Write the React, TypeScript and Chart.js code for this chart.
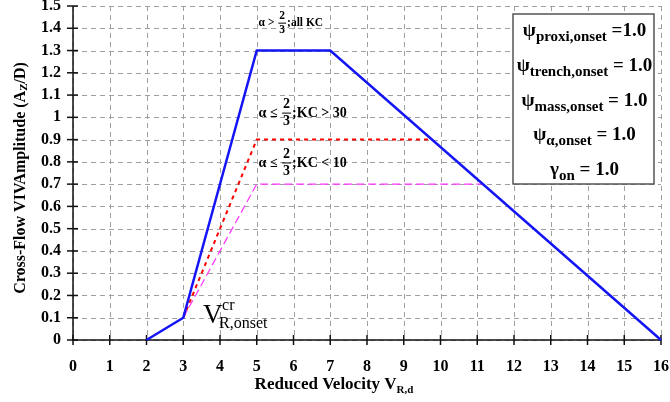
import React, { useEffect, useRef } from "react";
import { Chart, registerables } from "chart.js";

Chart.register(...registerables);

// ---- data ----
const allKcX = [2, 3, 5, 7, 16];
const allKcY = [0, 0.1, 1.3, 1.3, 0];
const kc30X = [3, 5, 9.77];
const kc30Y = [0.1, 0.9, 0.9];
const kc10X = [3, 5, 11.15];
const kc10Y = [0.1, 0.7, 0.7];
const xTickValues = [0, 1, 2, 3, 4, 5, 6, 7, 8, 9, 10, 11, 12, 13, 14, 15, 16];
const yTickValues = [0, 0.1, 0.2, 0.3, 0.4, 0.5, 0.6, 0.7, 0.8, 0.9, 1, 1.1, 1.2, 1.3, 1.4, 1.5];
const legendSymbols = ["ψ", "ψ", "ψ", "ψ", "γ"];
const legendSubs = ["proxi,onset", "trench,onset", "mass,onset", "α,onset", "on"];
const legendValues = ["=1.0", "= 1.0", "= 1.0", "= 1.0", "= 1.0"];
const yTitle = "Cross-Flow VIVAmplitude (A";
const xTitle = "Reduced Velocity V";

const SERIF = '"Liberation Serif", "DejaVu Serif", serif';

function pts(xs: number[], ys: number[]) {
  return xs.map((x, i) => ({ x, y: ys[i] }));
}

type Part = { t: string; font: string; dy: number };

function drawParts(ctx: CanvasRenderingContext2D, parts: Part[], x: number, y: number, align: "left" | "center") {
  let total = 0;
  for (const p of parts) {
    ctx.font = p.font;
    total += ctx.measureText(p.t).width;
  }
  let cx = align === "center" ? x - total / 2 : x;
  ctx.textAlign = "left";
  for (const p of parts) {
    ctx.font = p.font;
    ctx.fillText(p.t, cx, y + p.dy);
    cx += ctx.measureText(p.t).width;
  }
}

function drawFrac(ctx: CanvasRenderingContext2D, x: number, cy: number, pre: string, post: string, fs: number) {
  ctx.fillStyle = "#000";
  ctx.textBaseline = "middle";
  ctx.textAlign = "left";
  ctx.font = `bold ${fs}px ${SERIF}`;
  ctx.fillText(pre, x, cy);
  let cx = x + ctx.measureText(pre).width + 1;
  const w = ctx.measureText("2").width + 2;
  ctx.textAlign = "center";
  ctx.fillText("2", cx + w / 2, cy - fs * 0.62);
  ctx.fillText("3", cx + w / 2, cy + fs * 0.62);
  ctx.fillRect(cx, cy - 0.5, w, 1);
  cx += w + 1;
  ctx.textAlign = "left";
  ctx.fillText(post, cx, cy);
}

const decorPlugin = {
  id: "decor",
  beforeDatasetsDraw(chart: any) {
    const ctx: CanvasRenderingContext2D = chart.ctx;
    const xs = chart.scales.x;
    const ys = chart.scales.y;
    const { left, right, top, bottom } = chart.chartArea;
    ctx.save();
    ctx.strokeStyle = "#a0a0a0";
    ctx.lineWidth = 1;
    ctx.setLineDash([5, 4]);
    for (const v of xTickValues) {
      const p = Math.round(xs.getPixelForValue(v)) + 0.5;
      ctx.beginPath();
      ctx.moveTo(p, top);
      ctx.lineTo(p, bottom);
      ctx.stroke();
    }
    for (const v of yTickValues) {
      const p = Math.round(ys.getPixelForValue(v)) + 0.5;
      ctx.beginPath();
      ctx.moveTo(left, p);
      ctx.lineTo(right, p);
      ctx.stroke();
    }
    ctx.setLineDash([]);
    ctx.strokeStyle = "#111";
    ctx.lineWidth = 1.5;
    ctx.beginPath();
    ctx.moveTo(left, top);
    ctx.lineTo(left, bottom);
    ctx.lineTo(right, bottom);
    ctx.stroke();
    for (const v of xTickValues) {
      const p = xs.getPixelForValue(v);
      ctx.beginPath();
      ctx.moveTo(p, bottom - 5);
      ctx.lineTo(p, bottom + 5);
      ctx.stroke();
    }
    for (const v of yTickValues) {
      const p = ys.getPixelForValue(v);
      ctx.beginPath();
      ctx.moveTo(left - 6, p);
      ctx.lineTo(left + 5, p);
      ctx.stroke();
    }
    ctx.restore();
  },
  afterDatasetsDraw(chart: any) {
    const ctx: CanvasRenderingContext2D = chart.ctx;
    const xs = chart.scales.x;
    const ys = chart.scales.y;
    const { left, right, top, bottom } = chart.chartArea;
    const px = (v: number) => xs.getPixelForValue(v);
    const py = (v: number) => ys.getPixelForValue(v);
    ctx.save();
    ctx.fillStyle = "#000";

    // annotations
    drawFrac(ctx, px(5.05), py(1.423), "α > ", ";all KC", 11.5);
    drawFrac(ctx, px(5.05), py(1.019), "α ≤ ", ";KC > 30", 14);
    drawFrac(ctx, px(5.05), py(0.795), "α ≤ ", ";KC < 10", 14);

    // V_R,onset^cr
    ctx.textBaseline = "alphabetic";
    ctx.textAlign = "left";
    ctx.font = `27px ${SERIF}`;
    const vx = px(3.54);
    const vy = py(0.076);
    ctx.fillText("V", vx, vy);
    ctx.font = `16px ${SERIF}`;
    ctx.fillText("cr", vx + 19, vy - 13);
    ctx.fillText("R,onset", vx + 16, vy + 5);

    // legend box
    const bx = left + 440;
    const by = top + 8;
    const bw = right - bx - 7;
    const bh = 170;
    ctx.fillStyle = "#fff";
    ctx.fillRect(bx, by, bw, bh);
    ctx.strokeStyle = "#555";
    ctx.lineWidth = 1.5;
    ctx.strokeRect(bx, by, bw, bh);
    ctx.fillStyle = "#000";
    ctx.textBaseline = "alphabetic";
    for (let i = 0; i < legendSymbols.length; i++) {
      const ly = by + 22 + i * 34.8;
      drawParts(
        ctx,
        [
          { t: legendSymbols[i], font: `bold 19px ${SERIF}`, dy: 0 },
          { t: legendSubs[i], font: `bold 15px ${SERIF}`, dy: 5 },
          { t: " " + legendValues[i], font: `bold 19px ${SERIF}`, dy: 0 },
        ],
        bx + bw / 2 + 1,
        ly,
        "center"
      );
    }

    // y title
    ctx.save();
    ctx.translate(21, (top + bottom) / 2 + 5);
    ctx.rotate(-Math.PI / 2);
    ctx.textBaseline = "middle";
    drawParts(
      ctx,
      [
        { t: yTitle, font: `bold 16px ${SERIF}`, dy: 0 },
        { t: "Z", font: `bold 11px ${SERIF}`, dy: 3 },
        { t: "/D)", font: `bold 16px ${SERIF}`, dy: 0 },
      ],
      0,
      0,
      "center"
    );
    ctx.restore();

    // x title
    ctx.textBaseline = "alphabetic";
    drawParts(
      ctx,
      [
        { t: xTitle, font: `bold 17px ${SERIF}`, dy: 0 },
        { t: "R,d", font: `bold 11px ${SERIF}`, dy: 4 },
      ],
      334,
      bottom + 49,
      "center"
    );
    ctx.restore();
  },
};

export default function App() {
  const ref = useRef<HTMLCanvasElement | null>(null);
  useEffect(() => {
    document.body.style.margin = "0";
    if (!ref.current) return;
    const chart = new Chart(ref.current, {
      type: "line",
      data: {
        datasets: [
          {
            data: pts(allKcX, allKcY),
            borderColor: "#1414f5",
            borderWidth: 2.5,
            pointRadius: 0,
            tension: 0,
            clip: false,
          },
          {
            data: pts(kc30X, kc30Y),
            borderColor: "#ff0000",
            borderWidth: 2,
            borderDash: [4, 4],
            pointRadius: 0,
            tension: 0,
            clip: false,
          },
          {
            data: pts(kc10X, kc10Y),
            borderColor: "#ff33ff",
            borderWidth: 1.2,
            borderDash: [8, 4],
            pointRadius: 0,
            tension: 0,
            clip: false,
          },
        ],
      } as any,
      options: {
        animation: false,
        responsive: false,
        devicePixelRatio: 1,
        layout: { padding: { top: 6, right: 9, left: 0, bottom: 0 } },
        plugins: { legend: { display: false }, tooltip: { enabled: false } },
        scales: {
          x: {
            type: "linear",
            min: 0,
            max: 16,
            afterFit: (s: any) => {
              s.height = 62;
              s.paddingLeft = 0;
              s.paddingRight = 0;
            },
            afterBuildTicks: (s: any) => {
              s.ticks = xTickValues.map((v) => ({ value: v }));
            },
            grid: { display: false, drawTicks: false },
            border: { display: false },
            ticks: {
              padding: 17,
              color: "#000",
              font: { family: SERIF, size: 16, weight: "bold" },
              callback: (v: any) => String(v),
            },
          },
          y: {
            type: "linear",
            min: 0,
            max: 1.5,
            afterFit: (s: any) => {
              s.width = 73;
              s.paddingTop = 0;
              s.paddingBottom = 0;
            },
            afterBuildTicks: (s: any) => {
              s.ticks = yTickValues.map((v) => ({ value: v }));
            },
            grid: { display: false, drawTicks: false },
            border: { display: false },
            ticks: {
              padding: 12,
              color: "#000",
              font: { family: SERIF, size: 16, weight: "bold" },
              callback: (v: any) => String(Number(Number(v).toFixed(1))),
            },
          },
        },
      } as any,
      plugins: [decorPlugin],
    });
    return () => chart.destroy();
  }, []);
  return <canvas ref={ref} width={670} height={402} style={{ display: "block" }} />;
}
